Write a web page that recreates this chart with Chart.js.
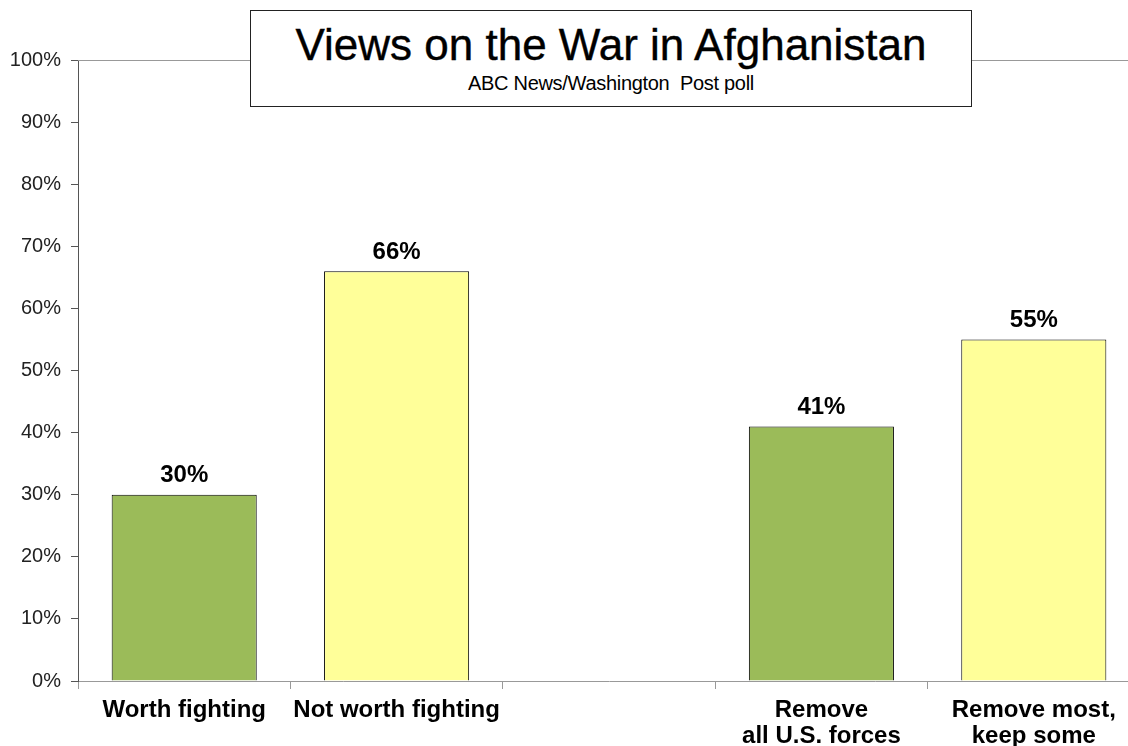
<!DOCTYPE html>
<html>
<head>
<meta charset="utf-8">
<script src="https://cdn.jsdelivr.net/npm/chart.js@4.4.1/dist/chart.umd.min.js"></script>
<style>
  html, body { margin: 0; padding: 0; background: #fff; overflow: hidden; }
  #wrap { position: relative; width: 1150px; height: 746px; }
  #titolo {
    position: absolute; left: 250px; top: 10px; width: 722px; height: 97px;
    box-sizing: border-box; border: 1px solid #222; background: #fff;
    font-family: "Liberation Sans", Arial, sans-serif; color: #000; text-align: center;
  }
  #titolo .t { position: absolute; left: 0; right: 0; top: 12px; font-size: 44px; line-height: 44px; -webkit-text-stroke: 0.4px #000; }
  #titolo .s { position: absolute; left: 0; right: 0; top: 62px; font-size: 20px; line-height: 20px; white-space: pre; letter-spacing: -0.3px; }
</style>
</head>
<body>
<div id="wrap">
  <canvas id="grafico" width="1150" height="746"></canvas>
  <div id="titolo">
    <div class="t">Views on the War in Afghanistan</div>
    <div class="s">ABC News/Washington  Post poll</div>
  </div>
</div>
<script>
// dati
const categorie = ["Worth fighting", "Not worth fighting", "", ["Remove", "all U.S. forces"], ["Remove most,", "keep some"]];
const valori = [30, 66, null, 41, 55];
const colori = ["#9BBB59", "#FFFF99", "#FFFFFF", "#9BBB59", "#FFFF99"];
const tickY = [0, 10, 20, 30, 40, 50, 60, 70, 80, 90, 100];

const FONT = "'Liberation Sans', Arial, sans-serif";

// etichette sopra le barre + bordo superiore dell'area
const etichette = {
  id: "etichette",
  afterDatasetsDraw(chart) {
    const ctx = chart.ctx;
    const area = chart.chartArea;
    ctx.save();
    ctx.strokeStyle = "#999";
    ctx.lineWidth = 1;
    ctx.beginPath();
    ctx.moveTo(area.left, area.top + 0.5);
    ctx.lineTo(area.right, area.top + 0.5);
    ctx.stroke();

    ctx.font = "bold 24px " + FONT;
    ctx.fillStyle = "#000";
    ctx.textAlign = "center";
    ctx.textBaseline = "bottom";
    chart.getDatasetMeta(0).data.forEach((bar, i) => {
      if (valori[i] == null) return;
      ctx.fillText(valori[i] + "%", bar.x, bar.y - 7);
    });
    ctx.restore();
  }
};

new Chart(document.getElementById("grafico"), {
  type: "bar",
  data: {
    labels: categorie,
    datasets: [{
      data: valori,
      backgroundColor: colori,
      borderColor: "#000",
      borderWidth: 1,
      categoryPercentage: 1,
      barPercentage: 0.683
    }]
  },
  options: {
    responsive: false,
    animation: false,
    layout: { padding: { left: 0, right: 10, top: 60, bottom: 0 } },
    plugins: {
      legend: { display: false },
      tooltip: { enabled: false }
    },
    scales: {
      x: {
        afterFit: s => { s.height = 65; },
        grid: { offset: true, drawOnChartArea: false, color: "#999", tickLength: 8 },
        border: { color: "#999", width: 1 },
        ticks: {
          color: "#000",
          padding: 8,
          font: { family: FONT, size: 24, weight: "bold", lineHeight: 1.08 },
          maxRotation: 0,
          autoSkip: false
        }
      },
      y: {
        min: 0,
        max: 100,
        afterFit: s => { s.width = 78; },
        afterBuildTicks: s => { s.ticks = tickY.map(v => ({ value: v })); },
        grid: { drawOnChartArea: false, color: "#555", tickLength: 7 },
        border: { color: "#555", width: 1 },
        ticks: {
          color: "#222",
          padding: 10,
          font: { family: FONT, size: 20 },
          callback: v => v + "%"
        }
      }
    }
  },
  plugins: [etichette]
});
</script>
</body>
</html>
